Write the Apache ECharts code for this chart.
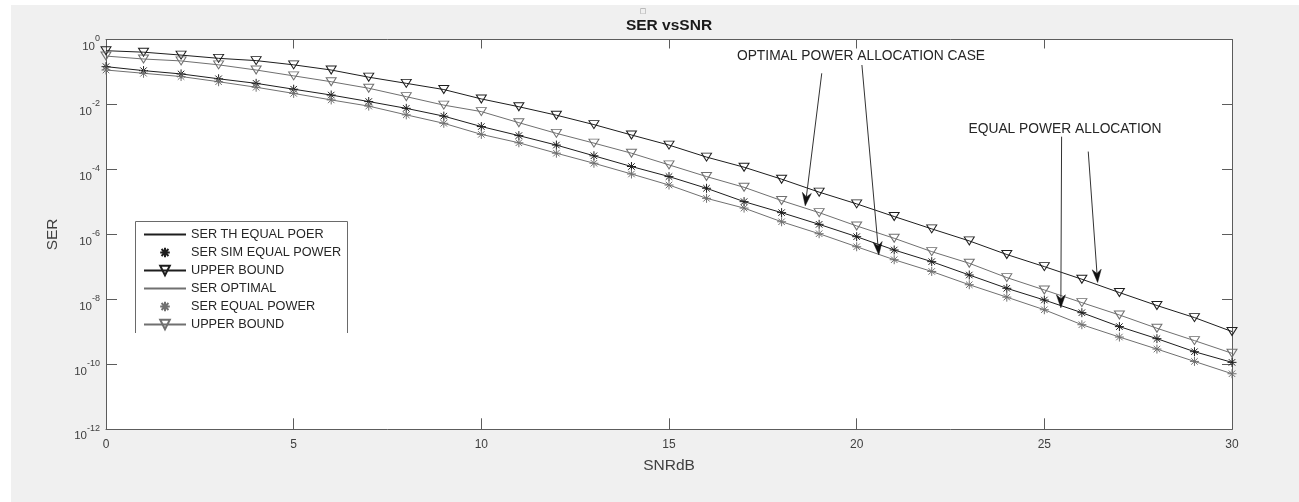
<!DOCTYPE html>
<html><head><meta charset="utf-8">
<script src="https://cdn.jsdelivr.net/npm/echarts@6/dist/echarts.min.js"></script>
<style>
html,body{margin:0;padding:0;background:#fff;}
#bg{position:absolute;left:11px;top:5px;width:1288px;height:497px;background:#f0f0f0;}
#chart{position:absolute;left:0;top:0;width:1299px;height:502px;}
</style></head><body>
<div id="bg"></div><div id="chart"></div>
<script>
// ---- data ----
const snrDb = [0,1,2,3,4,5,6,7,8,9,10,11,12,13,14,15,16,17,18,19,20,21,22,23,24,25,26,27,28,29,30];
const yTicks = [1e-12,1e-10,1e-8,1e-6,1e-4,1e-2,1];
const xTicks = [0,5,10,15,20,25,30];

// equal power: simulated (stars) and theoretical (line through them)
const serSimEqual = [0.146,0.110,0.0871,0.0617,0.0447,0.0295,0.0195,0.0123,7.59e-3,4.37e-3,2.09e-3,1.10e-3,5.62e-4,2.63e-4,1.23e-4,6.03e-5,2.63e-5,1.02e-5,4.68e-6,2.04e-6,8.51e-7,3.31e-7,1.45e-7,5.62e-8,2.19e-8,9.55e-9,3.89e-9,1.45e-9,6.17e-10,2.45e-10,1.15e-10];
const serThEqual  = [0.146,0.110,0.0871,0.0617,0.0447,0.0295,0.0195,0.0123,7.59e-3,4.37e-3,2.09e-3,1.10e-3,5.62e-4,2.63e-4,1.23e-4,6.03e-5,2.63e-5,1.02e-5,4.68e-6,2.04e-6,8.51e-7,3.31e-7,1.45e-7,5.62e-8,2.19e-8,9.55e-9,3.89e-9,1.45e-9,6.17e-10,2.45e-10,1.15e-10];
const upperEqual  = [0.452,0.407,0.331,0.263,0.224,0.166,0.115,0.0692,0.0447,0.0288,0.0148,8.51e-3,4.68e-3,2.40e-3,1.15e-3,5.62e-4,2.40e-4,1.17e-4,5.01e-5,2.00e-5,8.71e-6,3.55e-6,1.48e-6,6.31e-7,2.40e-7,1.02e-7,4.17e-8,1.62e-8,6.46e-9,2.75e-9,1.02e-9];
// optimal power
const serOptimal  = [0.115,0.0912,0.0724,0.0501,0.0339,0.0219,0.0138,8.91e-3,4.79e-3,2.63e-3,1.20e-3,6.61e-4,3.16e-4,1.55e-4,7.24e-5,3.31e-5,1.29e-5,6.46e-6,2.45e-6,1.05e-6,4.17e-7,1.66e-7,7.24e-8,2.82e-8,1.17e-8,4.79e-9,1.66e-9,6.92e-10,2.95e-10,1.23e-10,5.13e-11];
const serSimOpt   = [0.115,0.0912,0.0724,0.0501,0.0339,0.0219,0.0138,8.91e-3,4.79e-3,2.63e-3,1.20e-3,6.61e-4,3.16e-4,1.55e-4,7.24e-5,3.31e-5,1.29e-5,6.46e-6,2.45e-6,1.05e-6,4.17e-7,1.66e-7,7.24e-8,2.82e-8,1.17e-8,4.79e-9,1.66e-9,6.92e-10,2.95e-10,1.23e-10,5.13e-11];
const upperOpt    = [0.309,0.251,0.219,0.166,0.115,0.0759,0.0501,0.0316,0.0174,9.55e-3,6.03e-3,2.75e-3,1.29e-3,6.46e-4,3.16e-4,1.38e-4,6.03e-5,2.82e-5,1.10e-5,4.68e-6,1.82e-6,7.59e-7,2.95e-7,1.29e-7,4.68e-8,1.95e-8,7.94e-9,3.31e-9,1.29e-9,5.37e-10,2.19e-10];

const seriesNames = ['SER TH EQUAL POER','SER SIM EQUAL POWER','UPPER BOUND','SER OPTIMAL','SER EQUAL POWER','UPPER BOUND '];
const titleText = 'SER vsSNR';
const xName = 'SNRdB';
const yName = 'SER';

// annotations (data coordinates)
const annoTexts = [
  {text:'OPTIMAL POWER ALLOCATION CASE', x:16.81, y:0.310},
  {text:'EQUAL POWER ALLOCATION', x:22.98, y:1.78e-3}
];
const annoArrows = [
  {from:[19.07,0.0912], to:[18.63,7.59e-6]},
  {from:[20.14,0.164], to:[20.59,2.34e-7]},
  {from:[25.46,1.02e-3], to:[25.44,5.5e-9]},
  {from:[26.17,3.55e-4], to:[26.42,3.31e-8]}
];

// ---- chart ----
const FONT = 'Liberation Sans, Arial, Helvetica, sans-serif';
const DARK = '#1e1e1e', GRAY = '#707070', AX = '#5c5c5c', TXT = '#404040';
const STAR = 'path://M0,-5L0,5M-5,0L5,0M-3.6,-3.6L3.6,3.6M-3.6,3.6L3.6,-3.6';
const pairs = arr => snrDb.map((x,i)=>[x, arr[i]]);

const chart = echarts.init(document.getElementById('chart'), null, {renderer:'canvas'});

function lineSeries(name, data, color, opt) {
  return Object.assign({
    name, type:'line', data: pairs(data), xAxisIndex:0, yAxisIndex:0,
    showAllSymbol:true, animation:false, z:2,
    lineStyle:{color, width:1},
    itemStyle:{color:'transparent', borderColor:color, borderWidth:1},
    emphasis:{disabled:true}
  }, opt);
}

const option = {
  animation:false,
  backgroundColor:'transparent',
  grid:{left:106, top:39.5, right:67, bottom:72.7, show:true, backgroundColor:'#fff', borderWidth:0, containLabel:false},
  xAxis:[
    {type:'value', min:0, max:30, interval:5, position:'bottom',
     name:xName, nameLocation:'middle', nameGap:28,
     nameTextStyle:{fontFamily:FONT, fontSize:15.5, color:TXT},
     axisLine:{show:true, onZero:false, lineStyle:{color:AX, width:1}},
     axisTick:{show:true, inside:true, length:11, lineStyle:{color:AX}},
     axisLabel:{fontFamily:FONT, fontSize:12, color:TXT, margin:9},
     splitLine:{show:false}},
    {type:'value', min:0, max:30, interval:5, position:'top',
     axisLine:{show:true, onZero:false, lineStyle:{color:AX, width:1}},
     axisTick:{show:true, inside:true, length:9, lineStyle:{color:AX}},
     axisLabel:{show:false}, splitLine:{show:false}}
  ],
  yAxis:[
    {type:'log', logBase:10, min:1e-12, max:1, interval:2, position:'left',
     name:yName, nameLocation:'middle', nameGap:45, nameRotate:90,
     nameTextStyle:{fontFamily:FONT, fontSize:15.5, color:TXT},
     axisLine:{show:true, onZero:false, lineStyle:{color:AX, width:1}},
     axisTick:{show:true, inside:true, length:11, lineStyle:{color:AX}},
     axisLabel:{margin:6, padding:[8,0,0,0], formatter:function(v){
        const e = Math.round(Math.log10(v));
        return '{b|10}{s|' + e + '}';
     }, rich:{
        b:{fontFamily:FONT, fontSize:11.5, color:TXT, verticalAlign:'bottom', lineHeight:11},
        s:{fontFamily:FONT, fontSize:9, color:TXT, verticalAlign:'bottom', padding:[0,0,9,0]}
     }},
     splitLine:{show:false}},
    {type:'log', logBase:10, min:1e-12, max:1, interval:2, position:'right',
     axisLine:{show:true, onZero:false, lineStyle:{color:AX, width:1}},
     axisTick:{show:true, inside:true, length:10, lineStyle:{color:AX}},
     axisLabel:{show:false}, splitLine:{show:false}}
  ],
  legend:{
    orient:'vertical', left:143, top:228, padding:0,
    itemWidth:42, itemHeight:12, itemGap:5, selectedMode:false, z:5,
    textStyle:{fontFamily:FONT, fontSize:12.7, color:'#262626'},
    data:[
      {name:seriesNames[0], itemStyle:{color:'transparent', borderColor:'transparent', borderWidth:0}},
      {name:seriesNames[1], lineStyle:{opacity:0, width:0}},
      {name:seriesNames[2]},
      {name:seriesNames[3], itemStyle:{color:'transparent', borderColor:'transparent', borderWidth:0}},
      {name:seriesNames[4], lineStyle:{opacity:0, width:0}},
      {name:seriesNames[5]}
    ]
  },
  series:[
    lineSeries(seriesNames[0], serThEqual, DARK, {symbol:'none'}),
    lineSeries(seriesNames[1], serSimEqual, DARK, {symbol:STAR, symbolSize:9, lineStyle:{color:DARK, width:0, opacity:0}}),
    lineSeries(seriesNames[2], upperEqual, DARK, {symbol:'triangle', symbolRotate:180, symbolSize:[10,8]}),
    lineSeries(seriesNames[3], serOptimal, GRAY, {symbol:'none'}),
    lineSeries(seriesNames[4], serSimOpt, GRAY, {symbol:STAR, symbolSize:9, lineStyle:{color:GRAY, width:0, opacity:0}}),
    lineSeries(seriesNames[5], upperOpt, GRAY, {symbol:'triangle', symbolRotate:180, symbolSize:[10,8]})
  ]
};
chart.setOption(option);

// ---- annotations, legend box, title ----
const g = [];
g.push({type:'rect', z:3, shape:{x:135, y:221, width:213, height:112}, style:{fill:'#fff', stroke:null}});
g.push({type:'polyline', z:3, shape:{points:[[135.5,333],[135.5,221.5],[347.5,221.5],[347.5,333]]}, style:{stroke:'#6a6a6a', lineWidth:1, fill:null}});
g.push({type:'text', z:6, x:669, y:26, style:{text:titleText, font:'bold 15.5px ' + FONT, fill:'#1a1a1a', textAlign:'center', textVerticalAlign:'middle'}});
g.push({type:'text', z:6, x:643, y:11, style:{text:'\u25A1', font:'7px DejaVu Sans', fill:'#8a8a8a', textAlign:'center', textVerticalAlign:'middle'}});
annoTexts.forEach(a=>{
  const p = chart.convertToPixel({xAxisIndex:0, yAxisIndex:0}, [a.x, a.y]);
  g.push({type:'text', z:6, x:p[0], y:p[1], style:{text:a.text, font:'13.8px ' + FONT, fill:'#262626', textAlign:'left', textVerticalAlign:'middle'}});
});
annoArrows.forEach(a=>{
  const p = chart.convertToPixel({xAxisIndex:0, yAxisIndex:0}, a.from);
  const t = chart.convertToPixel({xAxisIndex:0, yAxisIndex:0}, a.to);
  const dx = t[0]-p[0], dy = t[1]-p[1], len = Math.hypot(dx,dy);
  const ux = dx/len, uy = dy/len, nx = -uy, ny = ux;
  const L = 13, W = 4.5, N = 4;
  const base = [t[0]-ux*(L-N), t[1]-uy*(L-N)];
  g.push({type:'line', z:6, shape:{x1:p[0], y1:p[1], x2:base[0], y2:base[1]}, style:{stroke:'#333', lineWidth:1}});
  g.push({type:'polygon', z:6, shape:{points:[
    [t[0], t[1]],
    [t[0]-ux*L+nx*W, t[1]-uy*L+ny*W],
    base,
    [t[0]-ux*L-nx*W, t[1]-uy*L-ny*W]
  ]}, style:{fill:'#111', stroke:'#111', lineWidth:0.5}});
});
chart.setOption({graphic:g});
</script>
</body></html>
